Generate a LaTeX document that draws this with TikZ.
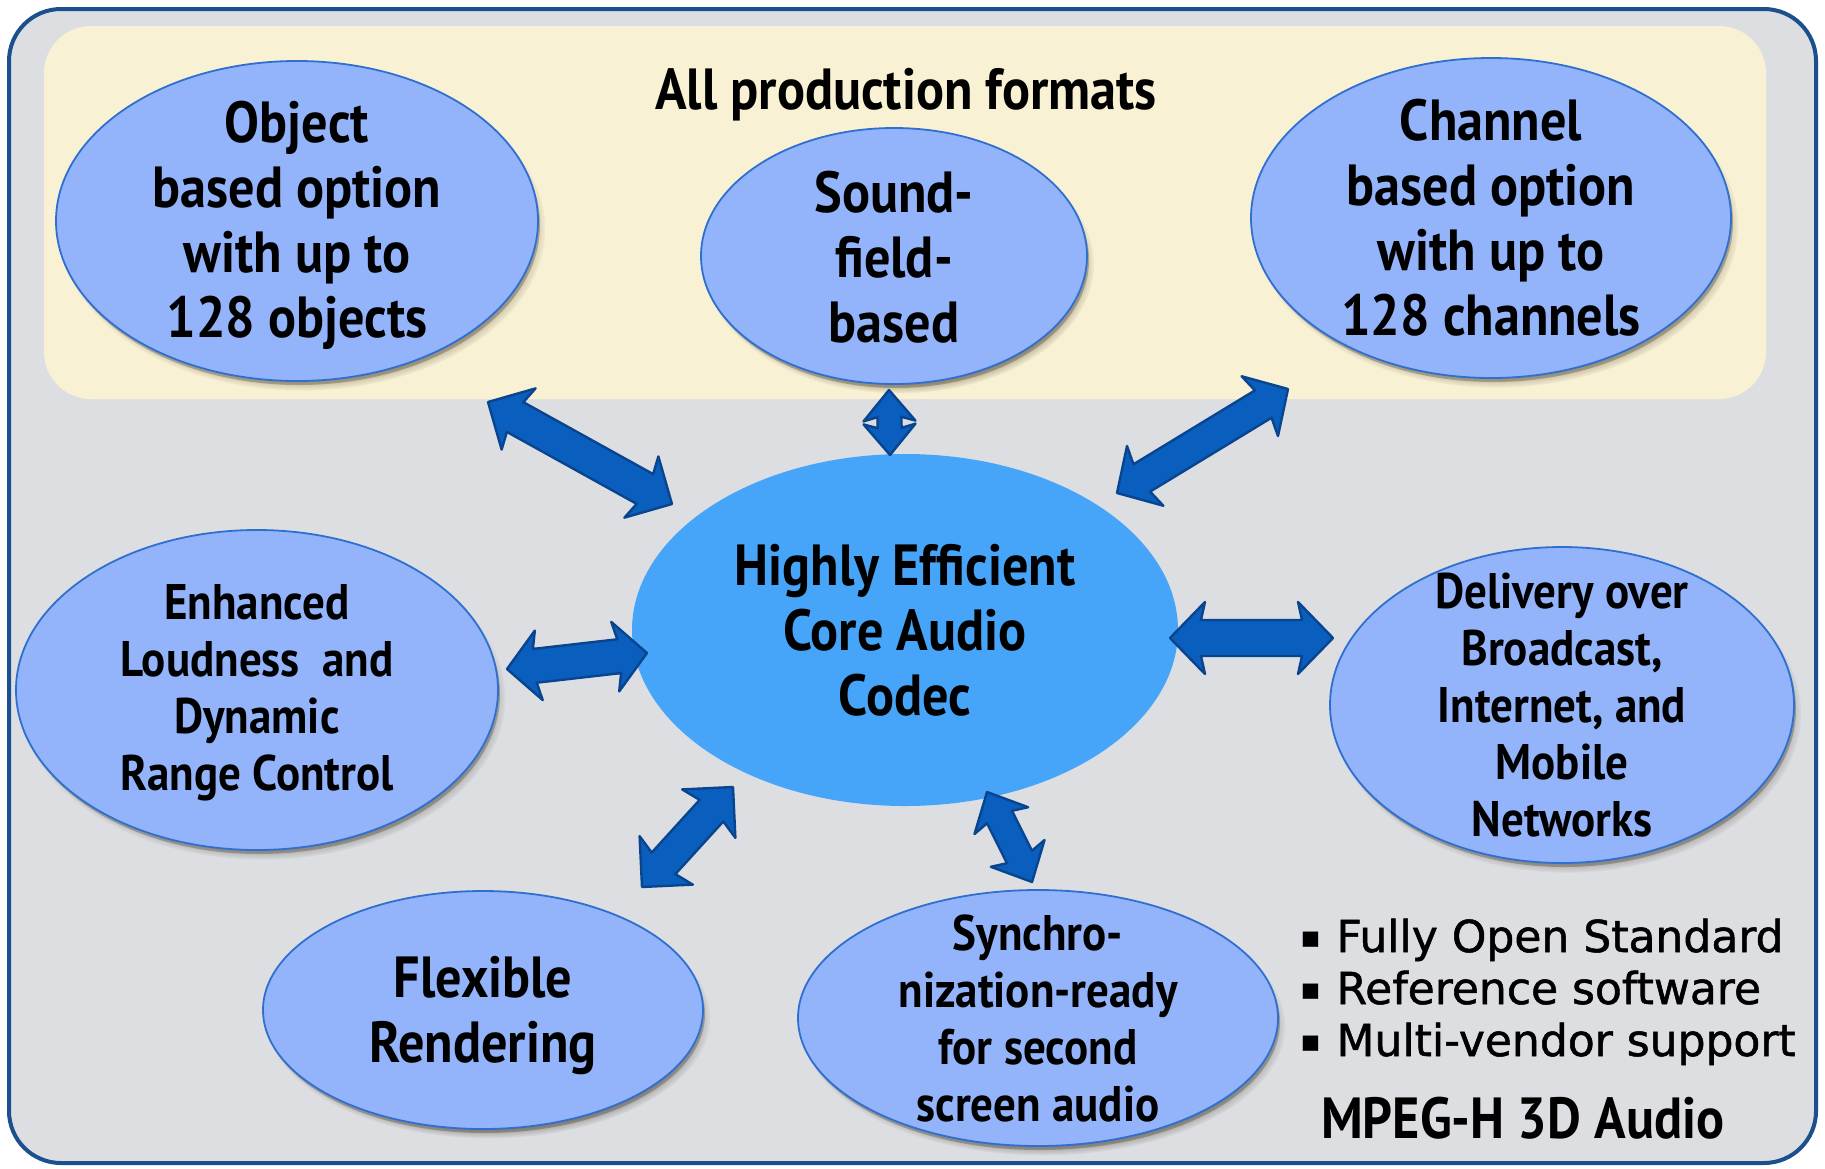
\documentclass[tikz,border=0pt]{standalone}
\usepackage{fontspec}
\setmainfont{PT Sans}
\newfontfamily\labelfont[FakeStretch=0.9]{PT Sans}
\newfontfamily\featfont[FakeBold=1.2]{DejaVu Sans}
\usetikzlibrary{shapes.geometric,calc,shadows,fadings}

\definecolor{pagebg}{HTML}{DCDEE2}
\definecolor{framecol}{HTML}{1C4F8E}
\definecolor{cream}{HTML}{F8F1D4}
\definecolor{bubblefill}{HTML}{93B4FB}
\definecolor{bubbleline}{HTML}{2F6FCF}
\definecolor{corefill}{HTML}{46A5F9}
\definecolor{arrowfill}{HTML}{0A5EBE}
\definecolor{arrowline}{HTML}{08458E}
\definecolor{shadowcol}{HTML}{3A3020}

\tikzset{
  bubble/.style={ellipse, draw=bubbleline, line width=1.8pt, fill=bubblefill, inner sep=0pt,
    general shadow={shadow xshift=5pt, shadow yshift=-8pt, shadow scale=1.01, opacity=.7,
      fill=shadowcol, path fading={circle with fuzzy edge 15 percent}},
    general shadow={shadow xshift=2pt, shadow yshift=-4pt, opacity=.3, fill=shadowcol}},
  corebubble/.style={ellipse, fill=corefill, inner sep=0pt},
  bigtext/.style={align=center, inner sep=0pt,
    font=\labelfont\bfseries\fontsize{58}{65}\selectfont},
  smalltext/.style={align=center, inner sep=0pt,
    font=\labelfont\bfseries\fontsize{50}{57}\selectfont},
  feattext/.style={inner sep=0pt, anchor=base west, font=\featfont\fontsize{44}{52}\selectfont},
  blockarrow/.style={fill=arrowfill, draw=arrowline, line width=2.4pt, line join=round},
}

% small square used as list bullet
\newcommand\featbullet{\raisebox{5pt}{\fontsize{30}{30}\selectfont ▪}\hspace{16pt}}

% double-headed block arrow between two named tips:
% #1,#2 tips, #3 head length, #4 head half-width, #5 shaft half-width
\newcommand\blockarrow[5]{%
  \coordinate (ba-p) at ($(#1)!#3!(#2)$);
  \coordinate (ba-q) at ($(#2)!#3!(#1)$);
  \coordinate (ba-pj) at ($(#1)!#3-4pt!(#2)$);
  \coordinate (ba-qj) at ($(#2)!#3-4pt!(#1)$);
  \path[blockarrow] (#1) -- ($(ba-p)!#4!90:(#2)$) -- ($(ba-pj)!#5!90:(#2)$)
    -- ($(ba-qj)!#5!-90:(#1)$) -- ($(ba-q)!#4!-90:(#1)$) -- (#2)
    -- ($(ba-q)!#4!90:(#1)$) -- ($(ba-qj)!#5!90:(#1)$)
    -- ($(ba-pj)!#5!-90:(#2)$) -- ($(ba-p)!#4!-90:(#2)$) -- cycle;}

\begin{document}
\begin{tikzpicture}[x=1pt,y=-1pt]
\useasboundingbox (0,0) rectangle (1825,1168);
\fill[white] (0,0) rectangle (1825,1168);

% frame and the production-format band
\draw[framecol, line width=4pt, fill=pagebg, rounded corners=52pt] (9,9) rectangle (1816,1163);
\fill[cream, rounded corners=47pt] (44,26) rectangle (1766,399);
\node[bigtext, anchor=base] (title) at (906,109) {All production formats};

% production formats
\node[bubble, minimum width=482pt, minimum height=320pt] (obj) at (297,221) {};
\node[bigtext, yshift=-4pt] (obj-t) at (obj) {Object\\based option\\with up to\\128 objects};
\node[bubble, minimum width=386pt, minimum height=256pt] (snd) at (894,256) {};
\node[bigtext, yshift=-1pt] (snd-t) at (snd) {Sound-\\field-\\based};
\node[bubble, minimum width=480pt, minimum height=320pt] (chn) at (1491,218) {};
\node[bigtext] (chn-t) at (chn) {Channel\\based option\\with up to\\128 channels};

% codec in the middle
\node[corebubble, minimum width=546pt, minimum height=352pt] (core) at (905,630) {};
\node[bigtext] (core-t) at (core) {Highly Efficient\\Core Audio\\Codec};

% features around the codec
\node[bubble, minimum width=482pt, minimum height=320pt] (loud) at (257,690) {};
\node[smalltext, yshift=-3pt] (loud-t) at (loud) {Enhanced\\Loudness\ \ and\\Dynamic\\Range Control};
\node[bubble, minimum width=464pt, minimum height=316pt] (deliv) at (1562,705) {};
\node[smalltext] (deliv-t) at (deliv) {Delivery over\\Broadcast,\\Internet, and\\Mobile\\Networks};
\node[bubble, minimum width=440pt, minimum height=238pt] (flex) at (483,1010) {};
\node[bigtext, yshift=-6pt] (flex-t) at (flex) {Flexible\\Rendering};
\node[bubble, minimum width=480pt, minimum height=256pt] (sync) at (1038,1018) {};
\node[smalltext] (sync-t) at (sync) {Synchro-\\nization-ready\\for second\\screen audio};

% arrow tips
\coordinate (a1o) at (488,402);  \coordinate (a1c) at (672,504);
\coordinate (a2s) at (889,390);  \coordinate (a2c) at (890,455);
\coordinate (a3h) at (1288,389); \coordinate (a3c) at (1117,493);
\coordinate (a4l) at (507,669);  \coordinate (a4c) at (647,653);
\coordinate (a5c) at (1170,638); \coordinate (a5d) at (1333,638);
\coordinate (a6f) at (642,887);  \coordinate (a6c) at (733,787);
\coordinate (a7c) at (987,792);  \coordinate (a7s) at (1032,882);

\blockarrow{a1o}{a1c}{35pt}{35pt}{17pt}
\blockarrow{a2s}{a2c}{31pt}{26pt}{12pt}
\blockarrow{a3h}{a3c}{33pt}{35pt}{16pt}
\blockarrow{a4l}{a4c}{32pt}{35pt}{17pt}
\blockarrow{a5c}{a5d}{35pt}{36pt}{18pt}
\blockarrow{a6f}{a6c}{36pt}{36pt}{16pt}
\blockarrow{a7c}{a7s}{32pt}{30pt}{14pt}

% properties of the standard
\node[feattext] (feat1) at (1300,952) {\featbullet Fully Open Standard};
\node[feattext] (feat2) at (1300,1004) {\featbullet Reference software};
\node[feattext] (feat3) at (1300,1056) {\featbullet Multi-vendor support};
\node[bigtext, anchor=base west] (std) at (1321,1138) {MPEG-H 3D Audio};
\end{tikzpicture}
\end{document}
